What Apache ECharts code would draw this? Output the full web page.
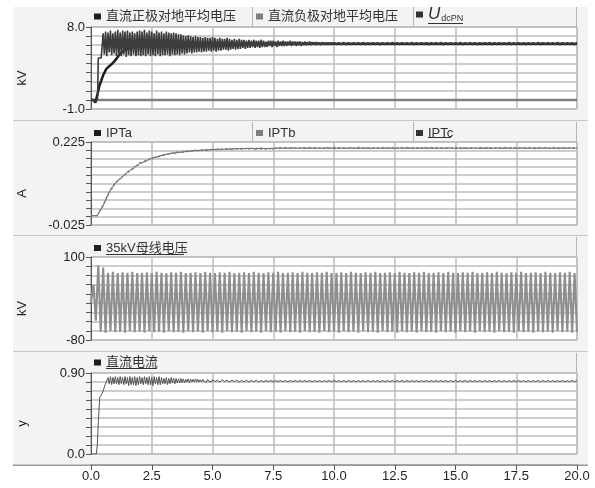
<!DOCTYPE html>
<html><head><meta charset="utf-8">
<script src="https://cdn.jsdelivr.net/npm/echarts@6/dist/echarts.min.js"></script>
<style>html,body{margin:0;padding:0;background:#fff}#c{width:595px;height:488px}</style>
</head><body><div id="c"></div>
<script>
// ---------- data ----------
const xTickLabels = ['0.0','2.5','5.0','7.5','10.0','12.5','15.0','17.5','20.0'];
const p1YLabels = ['-1.0','8.0'];
const p2YLabels = ['-0.025','0.225'];
const p3YLabels = ['-80','100'];
const p4YLabels = ['0.0','0.90'];

const seriesNames = ['直流正极对地平均电压','直流负极对地平均电压','UdcPN','IPTa','IPTb','IPTc','35kV母线电压','直流电流'];

// panel 1 : 直流正极对地平均电压
// start-up points, then samples every 0.05 s (0.5–9.95 s), then every 0.1 s (10–20 s)
const posStart = [[0,0],[0.1,0.05],[0.2,-0.2],[0.27,0.2],[0.3,4.6],[0.36,4.8],[0.42,4.6]];
const posOscA = [
7.3,5.0,7.5,4.8,7.4,5.2,7.6,4.9,7.3,5.1,7.5,4.8,7.7,4.9,7.4,4.8,7.6,5.0,7.5,4.7,
7.6,4.9,7.4,4.8,7.5,5.0,7.3,4.8,7.5,4.9,7.6,4.8,7.5,4.9,7.7,4.8,7.4,5.0,7.6,4.8,
7.5,4.9,7.3,4.8,7.6,5.0,7.4,4.8,7.5,4.9,7.3,4.9,7.5,5.0,7.4,4.8,7.3,5.0,7.4,4.9,
7.3,5.0,7.2,4.9,7.2,5.1,7.1,5.0,7.0,5.1,7.1,5.2,7.0,5.1,6.9,5.2,7.0,5.2,6.9,5.3,
6.9,5.2,6.8,5.3,6.9,5.3,6.8,5.4,6.8,5.3,6.9,5.4,6.8,5.3,6.7,5.4,6.8,5.4,6.7,5.5,
6.7,5.5,6.8,5.4,6.7,5.5,6.6,5.6,6.7,5.5,6.6,5.6,6.7,5.6,6.6,5.7,6.6,5.6,6.5,5.7,
6.6,5.7,6.5,5.8,6.6,5.7,6.5,5.8,6.5,5.7,6.6,5.8,6.5,5.8,6.4,5.8,6.5,5.9,6.5,5.8,
6.5,5.9,6.4,5.8,6.5,5.9,6.4,5.9,6.5,5.9,6.4,5.9,6.4,6.0,6.5,5.9,6.4,6.0,6.4,5.9,
6.4,6.0,6.4,5.9,6.35,6.0,6.4,6.0,6.35,6.0,6.4,6.0,6.35,6.05,6.35,6.0,6.35,6.05,6.3,6.0,
6.35,6.05,6.3,6.05,6.3,6.05,6.3,6.04,6.3,6.05
];
const posOscB = [
6.3,6.05,6.28,6.06,6.31,6.04,6.29,6.05,6.3,6.06,
6.29,6.05,6.31,6.04,6.3,6.06,6.28,6.05,6.3,6.04,
6.3,6.05,6.28,6.06,6.31,6.04,6.29,6.05,6.3,6.06,
6.29,6.05,6.31,6.04,6.3,6.06,6.28,6.05,6.3,6.04,
6.3,6.05,6.28,6.06,6.31,6.04,6.29,6.05,6.3,6.06,
6.29,6.05,6.31,6.04,6.3,6.06,6.28,6.05,6.3,6.04,
6.3,6.05,6.28,6.06,6.31,6.04,6.29,6.05,6.3,6.06,
6.29,6.05,6.31,6.04,6.3,6.06,6.28,6.05,6.3,6.04,
6.3,6.05,6.28,6.06,6.31,6.04,6.29,6.05,6.3,6.06,
6.29,6.05,6.31,6.04,6.3,6.06,6.28,6.05,6.3,6.04,
6.3
];
// 直流负极对地平均电压
const negPts = [[0,0],[20,0]];
// U_dcPN
const udcPts = [[0,0],[0.1,0],[0.18,-0.3],[0.25,-0.1],[0.3,1.0],[0.35,1.6],[0.42,2.1],[0.5,2.7],[0.63,3.4],[0.75,3.7],[0.84,3.9],[0.95,4.2],[1.04,4.5],[1.15,4.9],[1.25,5.2],[1.38,5.45],[1.5,5.6],[1.7,5.8],[2.0,5.95],[2.5,6.05],[3,6.1],[4,6.15],[5,6.17],[7.5,6.17],[10,6.17],[15,6.17],[20,6.17]];

// panel 2 : IPTa/b/c, samples every 0.25 s from 0.25 s
const iptStart = [[0,0.003]];
const iptA = [0.003,0.036,0.076,0.104,0.116,0.136,0.145,0.163,0.166,0.179,0.179,0.188,0.188,0.195,0.193,0.199,0.197,0.202,0.199,0.204,0.201,0.205,0.202,0.206,
0.203,0.207,0.203,0.207,0.203,0.207,
0.205,0.209,0.205,0.209,0.205,0.209,0.205,0.209,0.205,0.209,0.205,0.209,0.205,0.209,0.205,0.209,0.205,0.209,0.205,0.209,0.205,0.209,0.205,0.209,0.205,
0.209,0.205,0.209,0.205,0.209,0.205,0.209,0.205,0.209,0.205,0.209,0.205,0.209,0.205,0.209,0.205,0.209,0.205,0.209,0.205,0.209,0.205,0.209,0.205,0.209];
const iptB = [0.003,0.032,0.072,0.099,0.120,0.130,0.149,0.157,0.170,0.173,0.183,0.184,0.192,0.190,0.197,0.195,0.201,0.198,0.203,0.200,0.205,0.202,0.206,0.203,
0.207,0.203,0.207,0.203,0.207,0.203,
0.209,0.205,0.209,0.205,0.209,0.205,0.209,0.205,0.209,0.205,0.209,0.205,0.209,0.205,0.209,0.205,0.209,0.205,0.209,0.205,0.209,0.205,0.209,0.205,0.209,
0.205,0.209,0.205,0.209,0.205,0.209,0.205,0.209,0.205,0.209,0.205,0.209,0.205,0.209,0.205,0.209,0.205,0.209,0.205,0.209,0.205,0.209,0.205,0.209,0.205];
const iptC = [0.003,0.034,0.074,0.101,0.118,0.133,0.147,0.160,0.168,0.176,0.181,0.186,0.190,0.193,0.195,0.197,0.199,0.200,0.201,0.202,0.203,0.203,0.204,0.205,
0.205,0.206,0.205,0.206,0.205,0.206,
0.207,0.206,0.207,0.206,0.207,0.206,0.207,0.206,0.207,0.206,0.207,0.206,0.207,0.206,0.207,0.206,0.207,0.206,0.207,0.206,0.207,0.206,0.207,0.206,0.207,
0.206,0.207,0.206,0.207,0.206,0.207,0.206,0.207,0.206,0.207,0.206,0.207,0.206,0.207,0.206,0.207,0.206,0.207,0.206,0.207,0.206,0.207,0.206,0.207,0.206];

// panel 3 : 35kV母线电压, samples every 0.1 s from 0 s
const busV = [
0,40,-38,82,-62,77,-64,66,-61,68,
-63,65,-62,67,-64,66,-61,68,-63,65,
-62,66,-64,67,-61,65,-63,68,-62,66,
-64,65,-61,67,-63,66,-62,68,-64,65,
-61,66,-63,67,-62,65,-64,68,-61,66,
-63,65,-62,67,-64,66,-61,68,-63,65,
-62,66,-64,67,-61,65,-63,68,-62,66,
-64,65,-61,67,-63,66,-62,68,-64,65,
-61,66,-63,67,-62,65,-64,68,-61,66,
-63,65,-62,67,-64,66,-61,68,-63,65,
-62,66,-64,67,-61,65,-63,68,-62,66,
-64,65,-61,67,-63,66,-62,68,-64,65,
-61,66,-63,67,-62,65,-64,68,-61,66,
-63,65,-62,67,-64,66,-61,68,-63,65,
-62,66,-64,67,-61,65,-63,68,-62,66,
-64,65,-61,67,-63,66,-62,68,-64,65,
-61,66,-63,67,-62,65,-64,68,-61,66,
-63,65,-62,67,-64,66,-61,68,-63,65,
-62,66,-64,67,-61,65,-63,68,-62,66,
-64,65,-61,67,-63,66,-62,68,-64,65,
-62
];

// panel 4 : 直流电流
// start-up points, then samples every 0.05 s (0.7–4.95 s), then every 0.1 s (5–20 s)
const idcStart = [[0,0],[0.22,0],[0.26,0.1],[0.3,0.35],[0.36,0.63],[0.45,0.67],[0.5,0.7],[0.58,0.77],[0.65,0.79]];
const idcOscA = [
0.85,0.78,0.86,0.77,0.85,0.78,0.86,0.78,0.85,0.77,
0.86,0.78,0.85,0.77,0.86,0.78,0.85,0.76,0.86,0.77,
0.85,0.77,0.86,0.76,0.85,0.77,0.86,0.78,0.85,0.77,
0.86,0.78,0.85,0.77,0.86,0.77,0.85,0.76,0.86,0.78,
0.85,0.77,0.86,0.77,0.85,0.78,0.84,0.78,0.85,0.77,
0.84,0.78,0.85,0.79,0.84,0.78,0.84,0.79,0.835,0.79,
0.84,0.795,0.835,0.79,0.83,0.80,0.835,0.795,0.83,0.80,
0.83,0.80,0.835,0.80,0.83,0.80,0.825,0.80,0.83,0.805,
0.825,0.80,0.83,0.805,0.825,0.80
];
const idcOscB = [
0.825,0.805,0.82,0.80,0.825,0.805,0.82,0.80,0.82,0.805,
0.82,0.80,0.818,0.802,0.82,0.80,0.818,0.802,0.82,0.80,
0.817,0.803,0.816,0.804,0.817,0.803,0.816,0.804,0.817,0.803,
0.817,0.803,0.816,0.804,0.817,0.803,0.816,0.804,0.817,0.803,
0.817,0.803,0.816,0.804,0.817,0.803,0.816,0.804,0.817,0.803,
0.817,0.803,0.816,0.804,0.817,0.803,0.816,0.804,0.817,0.803,
0.817,0.803,0.816,0.804,0.817,0.803,0.816,0.804,0.817,0.803,
0.817,0.803,0.816,0.804,0.817,0.803,0.816,0.804,0.817,0.803,
0.817,0.803,0.816,0.804,0.817,0.803,0.816,0.804,0.817,0.803,
0.817,0.803,0.816,0.804,0.817,0.803,0.816,0.804,0.817,0.803,
0.817,0.803,0.816,0.804,0.817,0.803,0.816,0.804,0.817,0.803,
0.817,0.803,0.816,0.804,0.817,0.803,0.816,0.804,0.817,0.803,
0.817,0.803,0.816,0.804,0.817,0.803,0.816,0.804,0.817,0.803,
0.817,0.803,0.816,0.804,0.817,0.803,0.816,0.804,0.817,0.803,
0.817,0.803,0.816,0.804,0.817,0.803,0.816,0.804,0.817,0.803,
0.817
];

// ---------- build ----------
function pairs(t0, dt, vals){ return vals.map((v,i)=>[+(t0+i*dt).toFixed(3), v]); }

const FONT = "'Liberation Sans','Noto Sans CJK SC',sans-serif";
const GRID_LINE = {show:true, lineStyle:{color:'#bdbdbd', width:1.5}};
const panels = [
  {top:27, height:82, min:-1, max:8, interval:1, labels:p1YLabels, name:'kV'},
  {top:142, height:83, min:-0.025, max:0.225, interval:0.025, labels:p2YLabels, name:'A'},
  {top:257, height:83, min:-80, max:100, interval:20, labels:p3YLabels, name:'kV'},
  {top:373, height:81, min:0, max:0.9, interval:0.1, labels:p4YLabels, name:'y'}
];

const grid = panels.map(p=>({left:91, right:18, top:p.top, height:p.height, show:true, backgroundColor:'#fff', borderColor:'#a8a8a8', borderWidth:1}));
const xAxis = panels.map((p,i)=>{
  const last = i===3;
  return {
    type:'value', gridIndex:i, min:0, max:20, interval:2.5,
    splitLine: GRID_LINE,
    axisLine:{show:last, onZero:false, lineStyle:{color:'#999', width:1.5}},
    offset: last ? 11 : 0,
    axisTick:{show:last, length:5, lineStyle:{color:'#555'}},
    axisLabel:{show:last, fontSize:13, color:'#222', fontFamily:FONT, margin:5,
      formatter:(v)=>xTickLabels[Math.round(v/2.5)]}
  };
});
const yAxis = panels.map((p,i)=>({
  type:'value', gridIndex:i, min:p.min, max:p.max, interval:p.interval,
  name:p.name, nameLocation:'middle', nameGap:62, nameRotate:90,
  nameTextStyle:{fontSize:13, color:'#222', fontFamily:FONT, padding:[0,20,0,0]},
  splitLine: GRID_LINE,
  axisLine:{show:true, lineStyle:{color:'#555'}},
  axisTick:{show:true, length:5, lineStyle:{color:'#555'}},
  axisLabel:{show:true, showMinLabel:true, showMaxLabel:true, fontSize:13, color:'#222', fontFamily:FONT, margin:6,
    formatter:(v)=> Math.abs(v-p.max)<1e-9 ? p.labels[1] : (Math.abs(v-p.min)<1e-9 ? p.labels[0] : '')}
}));

function line(name, idx, data, color, width, type){
  return {type:'line', name, xAxisIndex:idx, yAxisIndex:idx, data, showSymbol:false, symbol:'none',
    color, lineStyle:{color, width, type:type||'solid'}, animation:false, sampling:null, clip:true};
}
const series = [
  line(seriesNames[1], 0, negPts, '#7f7f7f', 2.5),
  line(seriesNames[2], 0, udcPts, '#1e1e1e', 2.5),
  line(seriesNames[0], 0, posStart.concat(pairs(0.5,0.05,posOscA), pairs(10,0.1,posOscB)), '#3c3c3c', 1.6),
  line(seriesNames[3], 1, iptStart.concat(pairs(0.25,0.25,iptA)), '#8a8a8a', 1.2, [3,2]),
  line(seriesNames[4], 1, iptStart.concat(pairs(0.25,0.25,iptB)), '#9a9a9a', 1.2, [2,2]),
  line(seriesNames[5], 1, iptStart.concat(pairs(0.25,0.25,iptC)), '#6e6e6e', 1),
  line(seriesNames[6], 2, pairs(0,0.1,busV), '#8e8e8e', 2.1),
  line(seriesNames[7], 3, idcStart.concat(pairs(0.7,0.05,idcOscA), pairs(5,0.1,idcOscB)), '#555555', 1)
];
// legend icon colours
const legendColors = {'直流正极对地平均电压':'#1e1e1e','直流负极对地平均电压':'#7f7f7f','UdcPN':'#333','IPTa':'#1e1e1e','IPTb':'#7f7f7f','IPTc':'#333','35kV母线电压':'#1e1e1e','直流电流':'#1e1e1e'};

function lg(name, left, top, extra){
  return Object.assign({data:[{name, itemStyle:{color:legendColors[name]}}], left, top, padding:0, icon:'rect', itemWidth:7, itemHeight:6,
    selectedMode:false, textStyle:{fontSize:13, color:'#333', fontFamily:FONT}}, extra||{});
}
const legend = [
  lg(seriesNames[0], 94, 10),
  lg(seriesNames[1], 256, 10),
  lg('UdcPN', 416, 6, {formatter:()=>'{u|U}{s|dcPN}', textStyle:{fontFamily:FONT, color:'#333', rich:{u:{fontSize:17, fontStyle:'italic', fontFamily:FONT, color:'#333'}, s:{fontSize:9, fontFamily:FONT, color:'#333', padding:[9,0,0,1]}}}}),
  lg('IPTa', 94, 126.5),
  lg('IPTb', 256, 126.5),
  lg('IPTc', 416, 126.5),
  lg(seriesNames[6], 94, 241.5),
  lg(seriesNames[7], 94, 356)
];

// panel frames
const panelRects = [[7,113],[121,114],[236,115],[352,113]];
const legendTops = [7,122,237,353];
const plotTops = [27,142,257,373];
const graphic = [];
panelRects.forEach(([y,h])=>graphic.push({type:'rect', shape:{x:13,y,width:575,height:h}, style:{fill:'#f3f3f3'}, z:-10, silent:true}));
[120.5,235.5,351.5].forEach(y=>graphic.push({type:'line', shape:{x1:13,y1:y,x2:588,y2:y}, style:{stroke:'#c6c6c6', lineWidth:1}, z:-5, silent:true}));
graphic.push({type:'line', shape:{x1:13,y1:465.3,x2:588,y2:465.3}, style:{stroke:'#999', lineWidth:1.5}, z:-5, silent:true});
legendTops.forEach((y,i)=>{
  const xs = i<2 ? [252.5,413.5,576.5] : [576.5];
  xs.forEach(x=>graphic.push({type:'line', shape:{x1:x,y1:y,x2:x,y2:plotTops[i]}, style:{stroke:'#b4b4b4', lineWidth:1}, z:-5, silent:true}));
});
// underlines of the active legend items
[[428,463,23.5],[428,451,137.5],[106,184,254.5],[106,157,368.5]].forEach(([x1,x2,y])=>graphic.push({type:'line', shape:{x1,y1:y,x2,y2:y}, style:{stroke:'#333', lineWidth:1}, silent:true}));

const chart = echarts.init(document.getElementById('c'), null, {renderer:'canvas'});
chart.setOption({backgroundColor:'#fff', animation:false, grid, xAxis, yAxis, legend, series, graphic});
</script></body></html>
